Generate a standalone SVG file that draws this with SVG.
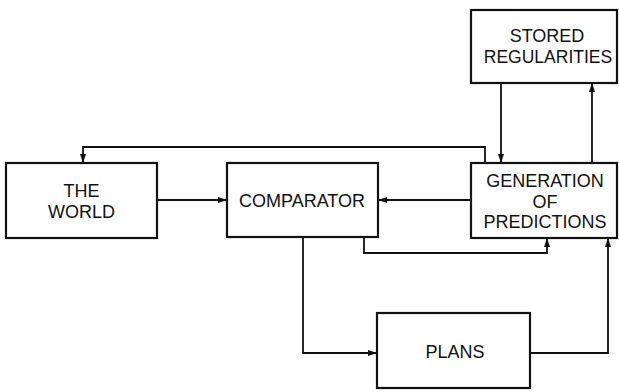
<svg xmlns="http://www.w3.org/2000/svg" width="619" height="392" viewBox="0 0 619 392">
<defs>
<marker id="arr" markerUnits="userSpaceOnUse" markerWidth="10" markerHeight="8" refX="9" refY="4" orient="auto">
<path d="M0,1 L9,4 L0,7 Z" fill="#111"/>
</marker>
<style>
.box{fill:#fff;stroke:#111;stroke-width:2.2}
.lbl{font-family:"Liberation Sans",Arial,sans-serif;font-size:18px;fill:#111;text-anchor:middle}
.conn path{fill:none;stroke:#111;stroke-width:1.8;marker-end:url(#arr)}
</style>
</defs>
<rect width="619" height="392" fill="#fff"/>
<g class="conn" id="connectors">
<path d="M485,163 V147 H83 V163"/>
<path d="M157,200 H227"/>
<path d="M471,200 H378"/>
<path d="M501,83 V163"/>
<path d="M592,163 V83"/>
<path d="M364,237 V253 H547 V238"/>
<path d="M303,237 V353 H377"/>
<path d="M530,353 H608 V238"/>
</g>
<g id="world">
<rect class="box" x="6" y="163" width="151" height="75"/>
<text class="lbl" x="81.5" y="197">THE</text>
<text class="lbl" x="81.5" y="218">WORLD</text>
</g>
<g id="comparator">
<rect class="box" x="227" y="163" width="151" height="74"/>
<text class="lbl" x="302" y="207">COMPARATOR</text>
</g>
<g id="generation">
<rect class="box" x="471" y="163" width="146" height="75"/>
<text class="lbl" x="545" y="187">GENERATION</text>
<text class="lbl" x="545" y="208">OF</text>
<text class="lbl" x="545" y="228">PREDICTIONS</text>
</g>
<g id="stored">
<rect class="box" x="471" y="10" width="146" height="73"/>
<text class="lbl" x="547" y="42">STORED</text>
<text class="lbl" x="548" y="63" style="font-size:17.5px">REGULARITIES</text>
</g>
<g id="plans">
<rect class="box" x="377" y="313" width="153" height="75"/>
<text class="lbl" x="455" y="358">PLANS</text>
</g>
</svg>
